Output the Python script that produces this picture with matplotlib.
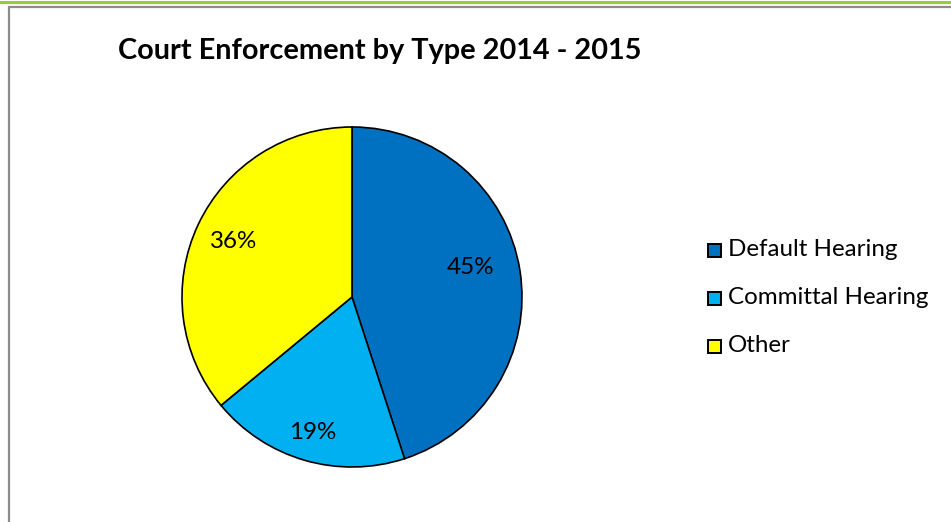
import matplotlib.pyplot as plt
import numpy as np
from matplotlib.patches import Rectangle
from matplotlib.lines import Line2D

categories = ["Default Hearing", "Committal Hearing", "Other"]
shares = [45, 19, 36]
colors = ["#0070C0", "#00B0F0", "#FFFF00"]

# where each percentage sits: fraction of radius, and turn (deg) off the wedge middle
label_dist = [0.72, 0.83, 0.77]
label_turn = [5, 0, 0]

plt.rcParams["font.family"] = ["Lato", "DejaVu Sans"]

W, H = 951, 522
fig = plt.figure(figsize=(W / 100, H / 100), dpi=100)

# frame lines along the top and left
fig.add_artist(Line2D([0, 1], [1 - 1.5 / H, 1 - 1.5 / H], color="#9BCB3C", lw=2.2))
fig.add_artist(Rectangle((8.5 / W, -0.1), 1.2, (H - 6.5) / H + 0.1, fill=False,
                         edgecolor="#8C8C8C", lw=1.6))

cx, cy, r = 352, 297, 170
ax = fig.add_axes([(cx - r) / W, (H - cy - r) / H, 2 * r / W, 2 * r / H])
wedges, texts, autotexts = ax.pie(shares, colors=colors, startangle=90, counterclock=False,
                                  autopct="%d%%", wedgeprops=dict(edgecolor="black", linewidth=1.2),
                                  textprops=dict(fontsize=17.4, color="black"))
ax.set_xlim(-1, 1)
ax.set_ylim(-1, 1)
for w in wedges:
    w.set_clip_on(False)
for w, t, d, turn in zip(wedges, autotexts, label_dist, label_turn):
    mid = np.deg2rad((w.theta1 + w.theta2) / 2 + turn)
    t.set_position((d * np.cos(mid), d * np.sin(mid)))

fig.text(380 / W, 1 - 51 / H, "Court Enforcement by Type 2014 - 2015", fontsize=20.8,
         fontweight="bold", ha="center", va="center")

# legend
for i, (name, c) in enumerate(zip(categories, colors)):
    y = 1 - (250 + 48 * i) / H
    fig.add_artist(Rectangle((708 / W, y - 6.5 / H), 13 / W, 13 / H, facecolor=c,
                             edgecolor="black", lw=1.4))
    fig.text(728 / W, y, name, fontsize=17.4, ha="left", va="center")

fig.savefig("out.png", dpi=100)
